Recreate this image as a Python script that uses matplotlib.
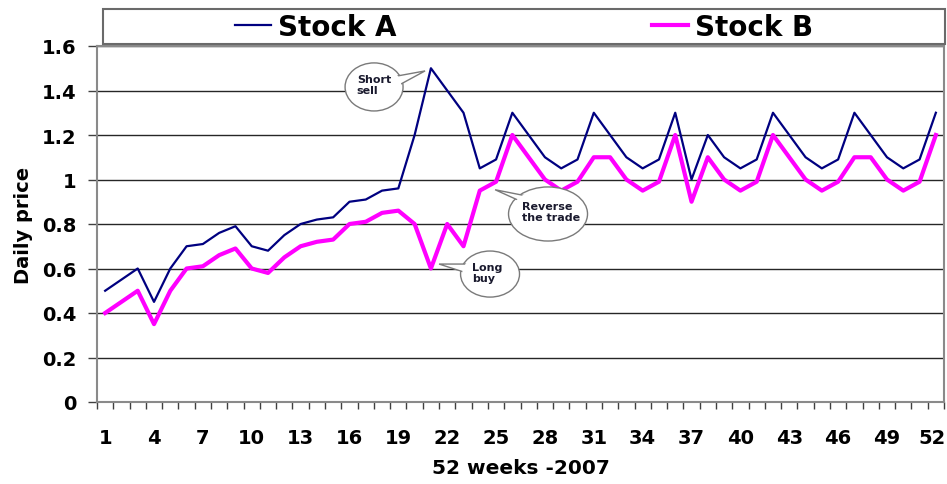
import numpy as np
import matplotlib
matplotlib.use("Agg")
import matplotlib.pyplot as plt
import matplotlib.transforms as mtransforms
from matplotlib.patches import Ellipse, Polygon, Rectangle
from matplotlib.ticker import FixedLocator

# weekly closing prices, 2007
weeks = np.arange(1, 53)
stock_a = [
    0.50, 0.55, 0.60, 0.45, 0.60, 0.70, 0.71, 0.76, 0.79, 0.70,
    0.68, 0.75, 0.80, 0.82, 0.83, 0.90, 0.91, 0.95, 0.96, 1.20,
    1.50, 1.40, 1.30, 1.05, 1.09, 1.30, 1.20, 1.10, 1.05, 1.09,
    1.30, 1.20, 1.10, 1.05, 1.09, 1.30, 1.00, 1.20, 1.10, 1.05,
    1.09, 1.30, 1.20, 1.10, 1.05, 1.09, 1.30, 1.20, 1.10, 1.05,
    1.09, 1.30,
]
stock_b = [
    0.40, 0.45, 0.50, 0.35, 0.50, 0.60, 0.61, 0.66, 0.69, 0.60,
    0.58, 0.65, 0.70, 0.72, 0.73, 0.80, 0.81, 0.85, 0.86, 0.80,
    0.60, 0.80, 0.70, 0.95, 0.99, 1.20, 1.10, 1.00, 0.95, 0.99,
    1.10, 1.10, 1.00, 0.95, 0.99, 1.20, 0.90, 1.10, 1.00, 0.95,
    0.99, 1.20, 1.10, 1.00, 0.95, 0.99, 1.10, 1.10, 1.00, 0.95,
    0.99, 1.20,
]
y_ticks = [0, 0.2, 0.4, 0.6, 0.8, 1.0, 1.2, 1.4, 1.6]
y_tick_labels = ["0", "0.2", "0.4", "0.6", "0.8", "1", "1.2", "1.4", "1.6"]
x_tick_weeks = list(range(1, 53, 3))

plt.rcParams["font.family"] = ["DejaVu Sans"]
plt.rcParams["font.weight"] = "bold"
plt.rcParams["axes.labelweight"] = "bold"

EDGE = "#7a7a7a"


def callout(ax, text, center, size, tip, base, text_xy):
    """Speech-bubble style note: ellipse with a wedge pointing at tip."""
    w, h = size
    ax.add_patch(Ellipse(center, w, h, facecolor="white", edgecolor=EDGE,
                         lw=1.0, zorder=5))
    ax.add_patch(Polygon([base[0], tip, base[1]], closed=True,
                         facecolor="white", edgecolor=EDGE, lw=1.0,
                         joinstyle="miter", zorder=6))
    # cover the wedge edges that fall inside the bubble
    ax.add_patch(Ellipse(center, w - 0.2, h - 0.016, facecolor="white",
                         edgecolor="none", zorder=7))
    ax.text(*text_xy, text, ha="left", va="center", fontsize=8,
            color="#1a1a2e", linespacing=1.15, zorder=8)


fig = plt.figure(figsize=(9.47, 4.85), dpi=100)
ax = fig.add_axes([97 / 947, 82 / 485, 847 / 947, 356 / 485])

line_a, = ax.plot(weeks, stock_a, color="#000080", lw=1.6, zorder=3,
                  label="Stock A")
line_b, = ax.plot(weeks, stock_b, color="#ff00ff", lw=3.0, zorder=3,
                  label="Stock B")

ax.set_xlim(0.5, 52.5)
ax.set_ylim(0, 1.6)

ax.set_yticks(y_ticks)
ax.set_yticklabels(y_tick_labels)
ax.tick_params(axis="y", direction="out", length=6.5, width=1.0,
               color="#404040", pad=8.5, labelsize=14)

ax.set_xticks(x_tick_weeks)
ax.set_xticklabels([str(w) for w in x_tick_weeks])
ax.xaxis.set_minor_locator(FixedLocator(np.arange(0.5, 53, 1)))
ax.tick_params(axis="x", which="major", length=0, pad=19, labelsize=14)
ax.tick_params(axis="x", which="minor", direction="out", length=5,
               width=1.0, color="#404040")

# last week label sits right at the figure edge, pull it in a little
last = ax.get_xticklabels()[-1]
last.set_transform(last.get_transform()
                   + mtransforms.ScaledTranslation(-4 / 100, 0,
                                                   fig.dpi_scale_trans))

ax.yaxis.grid(True, color="#262626", lw=1.0)
ax.set_axisbelow(True)
for side in ["left", "bottom", "right", "top"]:
    ax.spines[side].set_color("#8a8a8a")
    ax.spines[side].set_linewidth(1.5)

ax.set_ylabel("Daily price", fontsize=14)
ax.yaxis.set_label_coords(-0.076, 0.5)
ax.set_xlabel("52 weeks -2007", fontsize=14.5)
ax.xaxis.set_label_coords(0.5, -0.157)

callout(ax, "Short\nsell", center=(17.51, 1.416), size=(3.56, 0.216),
        tip=(20.64, 1.488), base=[(18.62, 1.461), (18.93, 1.420)],
        text_xy=(16.45, 1.426))
callout(ax, "Reverse\nthe trade", center=(28.19, 0.845), size=(4.85, 0.243),
        tip=(24.94, 0.954), base=[(26.60, 0.899), (27.21, 0.921)],
        text_xy=(26.60, 0.855))
callout(ax, "Long\nbuy", center=(24.63, 0.575), size=(3.62, 0.207),
        tip=(21.50, 0.620), base=[(23.41, 0.575), (23.65, 0.620)],
        text_xy=(23.55, 0.582))

# legend strip above the plot area
fig.patches.append(Rectangle((103 / 947, 440 / 485), 842 / 947, 35 / 485,
                             transform=fig.transFigure, facecolor="white",
                             edgecolor="#6a6a6a", lw=1.5))
fig.legend(handles=[line_a, line_b], loc="center left",
           bbox_to_anchor=(235 / 947, 457 / 485), ncol=2, frameon=False,
           fontsize=20, handlelength=1.3, handletextpad=0.25,
           columnspacing=9.2, borderpad=0, borderaxespad=0)

fig.savefig("out.png", dpi=100)
